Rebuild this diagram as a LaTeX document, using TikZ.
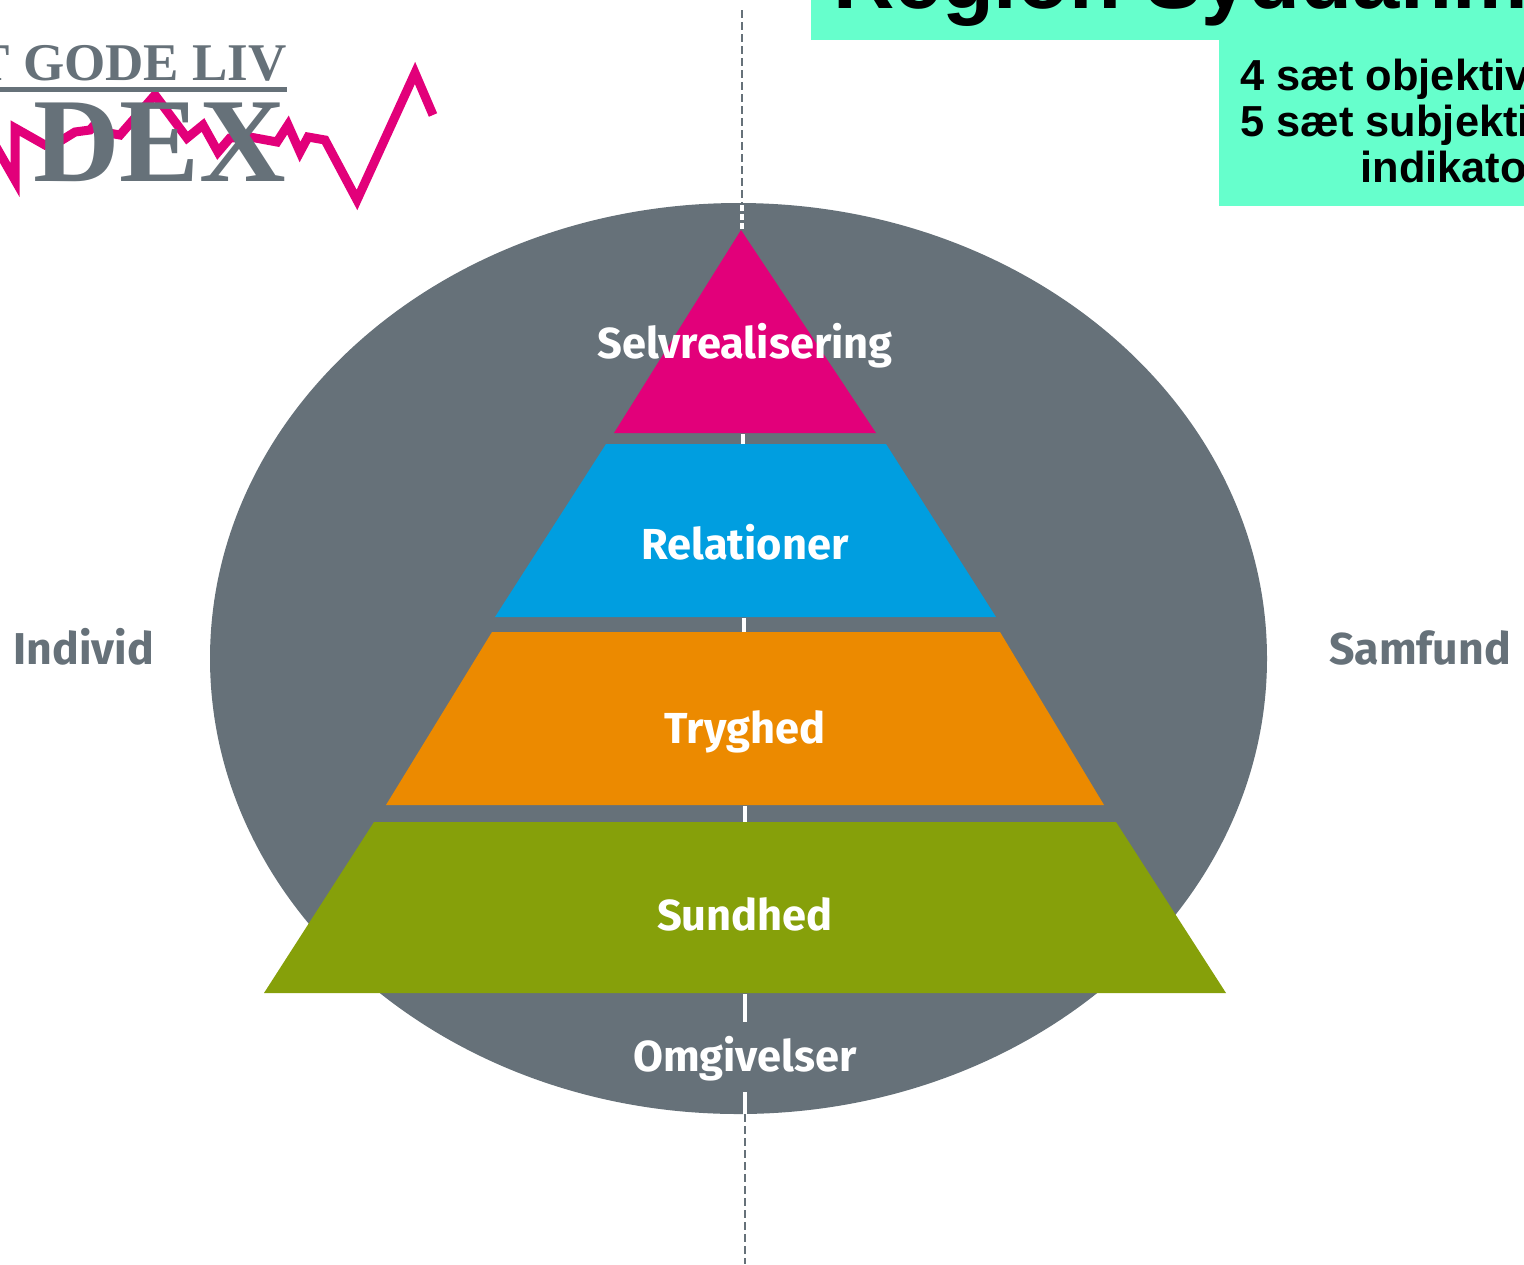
\documentclass[tikz,border=0pt]{standalone}
\usepackage{fontspec}
\setmainfont{Liberation Sans}
\newfontfamily\logofont{Liberation Serif}
\newfontfamily\levelfont{Fira Sans}
\usetikzlibrary{positioning, calc}
\definecolor{stonegray}{HTML}{667179}
\definecolor{logopink}{HTML}{E2007A}
\definecolor{levelblue}{HTML}{009EE0}
\definecolor{levelorange}{HTML}{EC8A00}
\definecolor{levelgreen}{HTML}{86A00A}
\definecolor{mintbox}{HTML}{66FFCC}
\tikzset{
  levellabel/.style={anchor=base, text=white, font=\levelfont\bfseries\fontsize{21.7}{24}\selectfont, inner sep=0pt},
  sidelabel/.style={anchor=base, text=stonegray, font=\levelfont\bfseries\fontsize{22.3}{24}\selectfont, inner sep=0pt},
  infotext/.style={anchor=base west, inner sep=0pt, font=\bfseries\fontsize{21.7}{24}\selectfont},
  axisline/.style={stonegray, line width=1pt, dash pattern=on 4pt off 2pt},
  axisgap/.style={white, line width=1.6pt},
}

\begin{document}
\begin{tikzpicture}[x=0.5pt,y=-0.5pt]
\useasboundingbox (0,0) rectangle (1524,1264);
\clip (0,0) rectangle (1524,1264);
% Vertical axis
\coordinate (axistop) at (742,10);
\coordinate (axisupper) at (742,205);
\coordinate (axislower) at (745,1114);
\coordinate (axisbottom) at (745,1264);
\draw[axisline] (axistop) -- (axisupper);
\draw[axisline] (axislower) -- (axisbottom);
% Background ellipse
\fill[stonegray] (738.5,658.5) ellipse [x radius=528.5, y radius=455.5];
% Axis pieces left open on the ellipse
\draw[axisgap, dash pattern=on 3pt off 1.5pt] (742,205) -- (742,232);
\draw[axisgap] (743,434) -- (743,444);
\draw[axisgap] (744,618) -- (744,632);
\draw[axisgap] (745,806) -- (745,822);
\draw[axisgap] (745,994) -- (745,1022);
\draw[axisgap] (745,1092) -- (745,1114);
% Pyramid levels
\fill[logopink] (741,230) -- (876,433) -- (614,433) -- cycle;
\fill[levelblue] (606,444) -- (886,444) -- (996,617) -- (495,617) -- cycle;
\fill[levelorange] (492,632) -- (1000,632) -- (1104,805) -- (386,805) -- cycle;
\fill[levelgreen] (374,822) -- (1116,822) -- (1226,993) -- (264,993) -- cycle;
\node[levellabel] (selvrealisering) at (745,358) {Selvrealisering};
\node[levellabel] (relationer) at (745,559) {Relationer};
\node[levellabel] (tryghed) at (745,743) {Tryghed};
\node[levellabel] (sundhed) at (745,930) {Sundhed};
\node[levellabel] (omgivelser) at (745,1071) {Omgivelser};
\node[sidelabel] (individ) at (84,664) {Individ};
\node[sidelabel] (samfund) at (1420,664) {Samfund};
% Logo
\draw[logopink, line width=4.5pt, line join=miter, line cap=butt]
  (-5,145) -- (15,180) -- (15,128) -- (45,145) -- (62,140) -- (75,132) -- (90,130) -- (97,122)
  -- (103,132) -- (120,135) -- (155,95) -- (187,138) -- (203,125) -- (218,152) -- (230,138)
  -- (250,137) -- (277,142) -- (288,125) -- (300,152) -- (308,137) -- (325,140)
  -- (357,200) -- (415,73) -- (433,115);
\node[anchor=base east, inner sep=0pt, text=stonegray, font=\logofont\bfseries\fontsize{26.5}{30}\selectfont] (logotop) at (287,80) {T GODE LIV};
\fill[stonegray] (-2,87) rectangle (287,92);
\node[anchor=base east, inner sep=0pt, text=stonegray, font=\logofont\bfseries\fontsize{60}{64}\selectfont] (logoindex) at (287,181) {DEX};
% Region boxes
\fill[mintbox] (811,0) rectangle (1524,40);
\fill[mintbox] (1219,40) rectangle (1524,206);
\node[anchor=base west, inner sep=0pt, font=\bfseries\fontsize{42.5}{46}\selectfont] (regiontitle) at (833,8) {Region Syddanm};
\node[infotext] (infoone) at (1240,90) {4 sæt objektive};
\node[infotext] (infotwo) at (1240,136) {5 sæt subjekti};
\node[infotext] (infothree) at (1360,182) {indikato};
\end{tikzpicture}
\end{document}
